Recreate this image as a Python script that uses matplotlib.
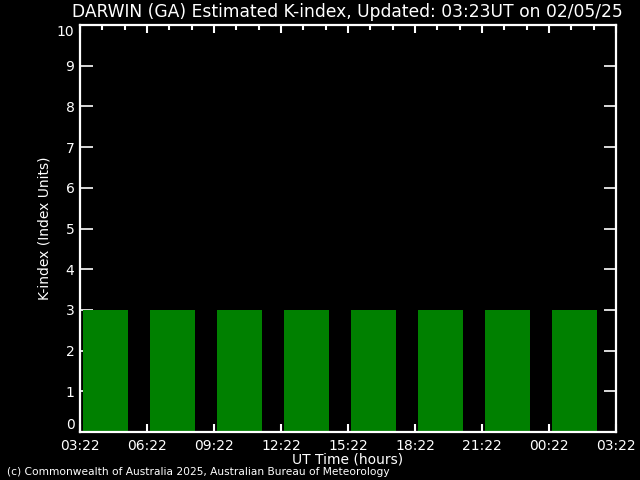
import numpy as np
import matplotlib
matplotlib.use("Agg")
import matplotlib.pyplot as plt

# K-index values for each 3-hour block (hours since 03:22 UT)
block_start = [0, 3, 6, 9, 12, 15, 18, 21]
k_values = [3, 3, 3, 3, 3, 3, 3, 3]
tick_hours = [0, 3, 6, 9, 12, 15, 18, 21, 24]
tick_labels = ["03:22", "06:22", "09:22", "12:22", "15:22",
               "18:22", "21:22", "00:22", "03:22"]

fig = plt.figure(figsize=(6.4, 4.8), dpi=100, facecolor="black")
# axes box in pixels: x 80..616, y 25..432
ax = fig.add_axes([80 / 640, 1 - 432 / 480, 536 / 640, 407 / 480])
ax.set_facecolor("black")

ax.bar(np.array(block_start) + 0.13, k_values, width=2.02, align="edge",
       color="#008000", zorder=3)

ax.set_xlim(0, 24)
ax.set_ylim(0, 10)
ax.set_xticks(tick_hours)
ax.set_xticklabels(tick_labels)
ax.set_yticks(range(11))
ax.set_xticks(range(25), minor=True)

for s in ax.spines.values():
    s.set_color("white")
    s.set_linewidth(1.6)
    s.set_zorder(4)

ax.tick_params(axis="y", which="major", direction="in", length=9, width=1.2,
               colors="white", left=True, right=True, labelsize=10, pad=4)
ax.tick_params(axis="x", which="major", direction="in", length=6, width=1.5,
               colors="white", top=True, bottom=True, labelsize=10, pad=5)
ax.tick_params(axis="x", which="minor", direction="in", length=3.5, width=1.5,
               colors="white", top=True, bottom=False)
ax.tick_params(axis="y", which="minor", left=False, right=False)

# end labels sit inside the axis range, like the original
yt = ax.yaxis.get_major_ticks()
yt[0].label1.set_va("bottom")
yt[-1].label1.set_va("top")

ax.set_xlabel("UT Time (hours)", color="white", fontsize=10, labelpad=0)
ax.set_ylabel("K-index (Index Units)", color="white", fontsize=10, labelpad=4)

fig.text(347 / 640, 1 - 12 / 480,
         "DARWIN (GA) Estimated K-index, Updated: 03:23UT on 02/05/25",
         color="white", fontsize=12.3, ha="center", va="center")
fig.text(7 / 640, 1 - 472 / 480,
         "(c) Commonwealth of Australia 2025, Australian Bureau of Meteorology",
         color="white", fontsize=7.7, ha="left", va="center")

fig.savefig("out.png", dpi=100, facecolor="black")
